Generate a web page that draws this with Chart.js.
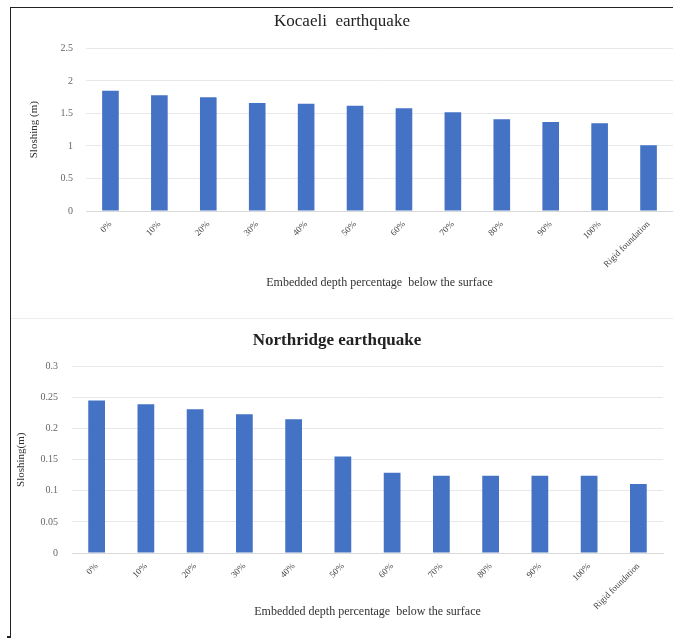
<!DOCTYPE html>
<html>
<head>
<meta charset="utf-8">
<script src="https://cdn.jsdelivr.net/npm/chart.js@4"></script>
<style>
  html, body { margin: 0; padding: 0; background: #fff; }
  body { width: 673px; height: 640px; position: relative; overflow: hidden; }
  #frame { position: absolute; left: 10px; top: 7px; width: 663px; height: 630px;
           border-left: 1px solid #222; border-top: 1px solid #222; }
  #sep { position: absolute; left: 11px; top: 318px; width: 662px; border-top: 1px solid #ececec; }
  #foot { position: absolute; left: 7px; top: 636px; width: 4px; border-top: 2px solid #222; }
  canvas { position: absolute; }
  #kocaeli { left: 11px; top: 8px; }
  #northridge { left: 11px; top: 320px; }
</style>
</head>
<body>
<div id="frame"></div>
<div id="sep"></div>
<div id="foot"></div>
<canvas id="kocaeli" width="662" height="307"></canvas>
<canvas id="northridge" width="662" height="317"></canvas>
<script>
const categorias = ['0%', '10%', '20%', '30%', '40%', '50%', '60%', '70%', '80%', '90%', '100%', 'Rigid foundation'];

const kocaeli = [1.85, 1.78, 1.75, 1.66, 1.65, 1.62, 1.58, 1.52, 1.41, 1.37, 1.35, 1.01];
const northridge = [0.245, 0.239, 0.231, 0.223, 0.215, 0.155, 0.129, 0.124, 0.124, 0.124, 0.124, 0.111];

const ticksKocaeli = ['0', '0.5', '1', '1.5', '2', '2.5'];
const ticksNorthridge = ['0', '0.05', '0.1', '0.15', '0.2', '0.25', '0.3'];

const serif = "'Liberation Serif', 'DejaVu Serif', serif";
const azul = '#4472c4';

function montarGrafico(id, cfg) {
  return new Chart(document.getElementById(id), {
    type: 'bar',
    data: {
      labels: categorias,
      datasets: [{
        data: cfg.valores,
        backgroundColor: azul,
        categoryPercentage: 1,
        barPercentage: 0.34
      }]
    },
    options: {
      responsive: false,
      animation: false,
      layout: { padding: { left: 0, right: cfg.padDireita, top: 0, bottom: 0 } },
      plugins: {
        legend: { display: false },
        tooltip: { enabled: false },
        title: {
          display: true,
          text: cfg.titulo,
          color: '#222',
          font: { family: serif, size: 17, weight: cfg.peso },
          padding: cfg.padTitulo
        }
      },
      scales: {
        x: {
          grid: { display: false, drawTicks: false },
          border: { display: true, color: '#d9d9d9' },
          ticks: {
            color: '#444',
            font: { family: serif, size: 9 },
            minRotation: 45,
            maxRotation: 45,
            padding: 8,
            autoSkip: false
          },
          title: {
            display: true,
            text: 'Embedded depth percentage  below the surface',
            color: '#333',
            font: { family: serif, size: 12 },
            padding: { top: 0, bottom: cfg.padTituloX }
          },
          afterFit: s => { s.height = cfg.alturaX; }
        },
        y: {
          min: 0,
          max: cfg.max,
          grid: { color: '#e8e8e8', drawTicks: false },
          border: { display: false },
          ticks: {
            stepSize: cfg.passo,
            color: '#666',
            font: { family: serif, size: 10 },
            padding: cfg.padTickY,
            callback: (v, i) => cfg.rotulos[i]
          },
          title: {
            display: true,
            text: cfg.tituloY,
            color: '#333',
            font: { family: serif, size: 11 },
            padding: { top: cfg.padTituloY, bottom: 0 }
          },
          afterFit: s => { s.width = cfg.larguraY; }
        }
      }
    }
  });
}

montarGrafico('kocaeli', {
  valores: kocaeli,
  titulo: 'Kocaeli  earthquake',
  peso: 'normal',
  padTitulo: { top: 3, bottom: 17 },
  padDireita: 0,
  alturaX: 104,
  padTituloX: 25,
  max: 2.5,
  passo: 0.5,
  rotulos: ticksKocaeli,
  tituloY: 'Sloshing (m)',
  padTickY: 13,
  padTituloY: 17,
  larguraY: 75
});

montarGrafico('northridge', {
  valores: northridge,
  titulo: 'Northridge earthquake',
  peso: 'bold',
  padTitulo: { top: 10, bottom: 16 },
  padDireita: 10,
  alturaX: 84,
  padTituloX: 18,
  max: 0.3,
  passo: 0.05,
  rotulos: ticksNorthridge,
  tituloY: 'Sloshing(m)',
  padTickY: 14,
  padTituloY: 4,
  larguraY: 61
});
</script>
</body>
</html>
